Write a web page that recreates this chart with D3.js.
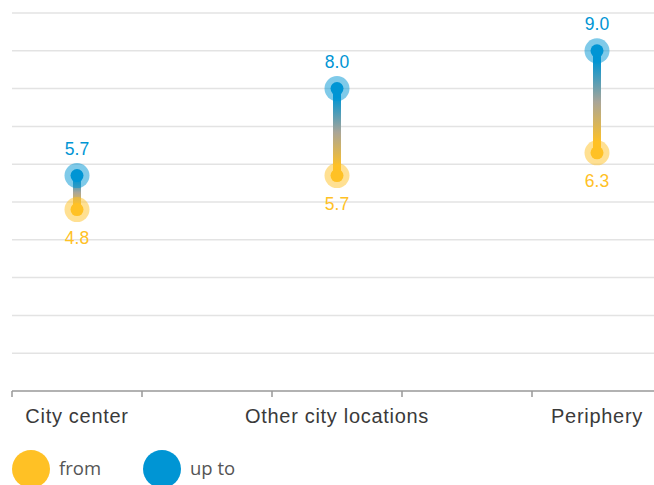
<!DOCTYPE html>
<html>
<head>
<meta charset="utf-8">
<script src="https://cdn.jsdelivr.net/npm/d3@7"></script>
<style>
  body { margin: 0; background: #fff; }
  svg { display: block; font-family: "Liberation Sans", Arial, sans-serif; }
  .grid line { stroke: #e3e3e3; stroke-width: 1.5; }
  .legend text { font-family: "Open Sans", sans-serif; font-size: 18.5px; fill: #555; }
</style>
</head>
<body>
<div id="chart"></div>
<script>
const categories = ["City center", "Other city locations", "Periphery"];
const fromValues = [4.8, 5.7, 6.3];
const upToValues = [5.7, 8.0, 9.0];
const legendLabels = ["from", "up to"];

const width = 654;
const height = 485;
const margin = { top: 13, right: 0, bottom: 94, left: 12 };

const blue = "#0095d4";
const yellow = "#ffc125";
const mid = "#a9a598";

const svg = d3.select("#chart").append("svg")
  .attr("width", width)
  .attr("height", height);

const x = d3.scaleBand()
  .domain(categories)
  .range([margin.left, margin.left + 650])
  .paddingInner(0.5)
  .paddingOuter(0);

const y = d3.scaleLinear()
  .domain([0, 10])
  .range([height - margin.bottom, margin.top]);

// gridlines
svg.append("g")
  .attr("class", "grid")
  .selectAll("line")
  .data(d3.range(1, 11))
  .join("line")
  .attr("x1", margin.left)
  .attr("x2", width)
  .attr("y1", (d) => y(d))
  .attr("y2", (d) => y(d));

// x axis
const gx = svg.append("g")
  .attr("transform", `translate(0,${y(0)})`)
  .call(d3.axisBottom(x).tickSize(0).tickPadding(18))
  .call((g) => g.select(".domain").remove())
  .call((g) => g.selectAll("text")
    .attr("font-size", 20)
    .attr("letter-spacing", 0.7)
    .attr("font-family", "Liberation Sans, Arial, sans-serif")
    .attr("fill", "#3a3a3a"));

gx.append("line")
  .attr("x1", margin.left)
  .attr("x2", width)
  .attr("stroke", "#999")
  .attr("stroke-width", 1.5);

const edges = categories.flatMap((c) => [x(c), x(c) + x.bandwidth()]);
gx.selectAll(".edge")
  .data(edges)
  .join("line")
  .attr("class", "edge")
  .attr("x1", (d) => d)
  .attr("x2", (d) => d)
  .attr("y1", 0)
  .attr("y2", 6)
  .attr("stroke", "#999")
  .attr("stroke-width", 1.5);

const rows = categories.map((c, i) => ({ name: c, from: fromValues[i], to: upToValues[i] }));
const cx = (d) => x(d.name) + x.bandwidth() / 2;

// gradients
const defs = svg.append("defs");
rows.forEach((d, i) => {
  const grad = defs.append("linearGradient")
    .attr("id", `grad${i}`)
    .attr("gradientUnits", "userSpaceOnUse")
    .attr("x1", 0).attr("x2", 0)
    .attr("y1", y(d.to)).attr("y2", y(d.from));
  grad.append("stop").attr("offset", "0.1").attr("stop-color", blue);
  grad.append("stop").attr("offset", "0.5").attr("stop-color", mid);
  grad.append("stop").attr("offset", "0.9").attr("stop-color", yellow);
});

const g = svg.append("g");

g.selectAll(".link")
  .data(rows)
  .join("rect")
  .attr("class", "link")
  .attr("x", (d) => cx(d) - 4)
  .attr("width", 8)
  .attr("y", (d) => y(d.to))
  .attr("height", (d) => y(d.from) - y(d.to))
  .attr("fill", (d, i) => `url(#grad${i})`);

const dots = [
  ...rows.map((d) => ({ row: d, v: d.from, color: yellow, kind: "from" })),
  ...rows.map((d) => ({ row: d, v: d.to, color: blue, kind: "to" })),
];

g.selectAll(".halo")
  .data(dots)
  .join("circle")
  .attr("cx", (d) => cx(d.row))
  .attr("cy", (d) => y(d.v))
  .attr("r", 12.5)
  .attr("fill", (d) => d.color)
  .attr("fill-opacity", 0.5);

g.selectAll(".dot")
  .data(dots)
  .join("circle")
  .attr("cx", (d) => cx(d.row))
  .attr("cy", (d) => y(d.v))
  .attr("r", 6.5)
  .attr("fill", (d) => d.color);

g.selectAll(".val")
  .data(dots)
  .join("text")
  .attr("x", (d) => cx(d.row))
  .attr("y", (d) => y(d.v) + (d.kind === "to" ? -21 : 34))
  .attr("text-anchor", "middle")
  .attr("font-size", 17.5)
  .attr("fill", (d) => d.color)
  .text((d) => d3.format(".1f")(d.v));

// legend
const legend = svg.append("g").attr("class", "legend")
  .attr("transform", `translate(0,${height - 16})`);
const items = legend.selectAll("g")
  .data(legendLabels)
  .join("g")
  .attr("transform", (d, i) => `translate(${31 + i * 131},0)`);
items.append("circle")
  .attr("r", 19)
  .attr("fill", (d, i) => (i === 0 ? yellow : blue));
items.append("text")
  .attr("x", 28)
  .attr("dy", "0.35em")
  .text((d) => d);
</script>
</body>
</html>
